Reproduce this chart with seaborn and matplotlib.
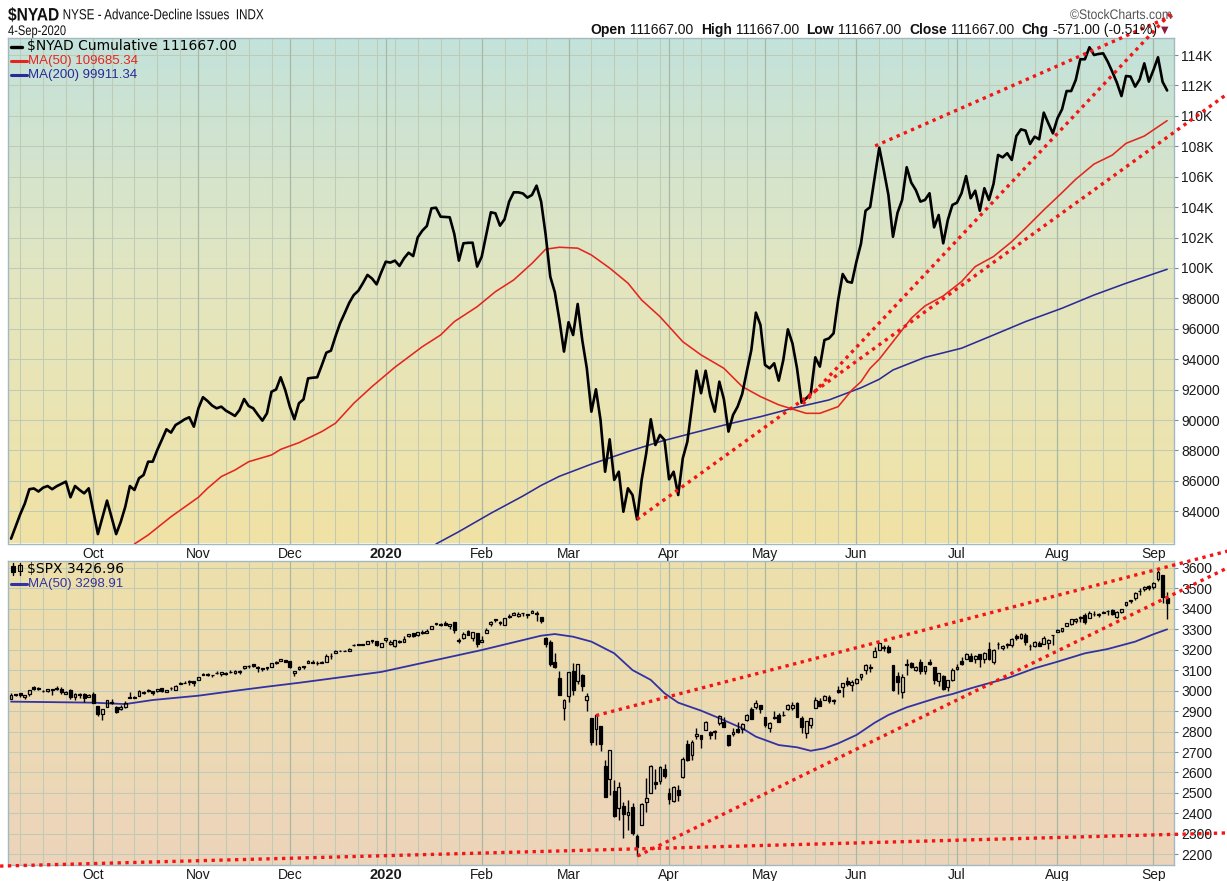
import numpy as np
import pandas as pd
import matplotlib
matplotlib.use("Agg")
import matplotlib.pyplot as plt
from matplotlib import font_manager
from matplotlib.colors import LinearSegmentedColormap
from matplotlib.lines import Line2D
from matplotlib.patches import Rectangle, PathPatch
from matplotlib.textpath import TextPath
from matplotlib.font_manager import FontProperties
from matplotlib.transforms import Affine2D
import seaborn as sns

W, H = 1227, 881

# ---------------- calendar (NYSE trading days) ----------------
holidays = ["2019-11-28", "2019-12-25", "2020-01-01", "2020-01-20",
            "2020-02-17", "2020-04-10", "2020-05-25", "2020-07-03"]
trade_dates = pd.bdate_range("2019-09-05", "2020-09-04", freq="C", holidays=holidays)
month_labels = ["Oct", "Nov", "Dec", "2020", "Feb", "Mar", "Apr", "May", "Jun", "Jul", "Aug", "Sep"]

# ---------------- $NYAD cumulative (daily close) ----------------
nyad = [
    82200, 83000, 83800, 84500, 85450, 85500, 85300, 85550, 85660, 85450,
    85650, 85800, 85950, 84920, 85660, 85400, 85180, 85510, 84000, 82500,
    83600, 84700, 83600, 82500, 83300, 84300, 85660, 85400, 86170, 86385,
    87260, 87260, 88030, 88700, 89390, 89170, 89670, 89850, 90050, 90180,
    89560, 90770, 91500, 91250, 90950, 90770, 90880, 90620, 90450, 90270,
    90660, 91380, 90920, 90770, 90350, 89960, 90440, 91860, 92010, 92810,
    91970, 90880, 90050, 91100, 91360, 92740, 92780, 92810, 93600, 94430,
    94560, 95500, 96360, 97020, 97700, 98220, 98500, 99000, 99540, 99300,
    98920, 99700, 100410, 100350, 100480, 100130, 100630, 101000, 100780, 102010,
    102450, 102760, 103920, 103960, 103370, 103350, 103330, 102230, 100480, 101620,
    101650, 101660, 100090, 100740, 102200, 103660, 103590, 102780, 103200, 104360,
    104970, 104970, 104900, 104620, 104800, 105410, 104360, 102170, 99430, 98400,
    96580, 94500, 96430, 95590, 97630, 95260, 93400, 90550, 92020, 90000,
    86600, 88730, 86060, 86600, 83970, 85510, 85070, 83470, 86060, 87810,
    90050, 88360, 89020, 88690, 86100, 86600, 85070, 87480, 88580, 90880,
    93240, 91760, 93240, 91580, 90550, 92520, 91360, 89240, 90330, 90880,
    91710, 93180, 94600, 97060, 96250, 93620, 93400, 93730, 92590, 93950,
    95960, 95040, 93400, 91140, 91430, 91710, 94120, 93510, 95260, 95370,
    95700, 97890, 99600, 99100, 99030, 100410, 101600, 103760, 104000, 105950,
    107910, 106400, 104800, 102050, 103630, 104470, 106620, 105610, 105120, 104360,
    104470, 104910, 102670, 103480, 101620, 103150, 104140, 104290, 104910, 106040,
    104580, 105080, 103760, 105240, 104470, 105520, 107430, 107270, 107540, 107100,
    108670, 109110, 109030, 108150, 108630, 108460, 110210, 109510, 108850, 109840,
    110430, 111630, 111630, 112360, 113720, 113720, 114510, 114000, 114070, 114110,
    113560, 112900, 112180, 111300, 112620, 112580, 111920, 112400, 113450, 112250,
    113010, 113850, 112238, 111667]

# moving averages of $NYAD (trading-day number since 2019-09-05, value)
nyad_ma50_day = [27, 30, 35, 41, 43, 46, 49, 52, 57, 59, 63, 68, 71, 75, 79, 84, 90, 94, 97, 102,
                 106, 110, 114, 117, 120, 124, 127, 131, 135, 138, 142, 147, 151, 156, 160, 164, 168, 171, 174, 177,
                 181, 184, 186, 188, 190, 193, 197, 200, 204, 208, 211, 215, 219, 222, 226, 230, 233, 237, 241, 244,
                 248, 253]
nyad_ma50_val = [81850, 82440, 83640, 84920, 85510, 86280, 86710, 87260, 87700, 88070,
                 88510, 89240, 89790, 91100, 92200, 93470, 94820, 95590, 96470, 97450,
                 98440, 99210, 100300, 101230, 101360, 101300, 100850, 99990, 99000, 97890,
                 96800, 95150, 94280, 93400, 92200, 91540, 91000, 90720, 90440, 90440,
                 90880, 91970, 92520, 93400, 94000, 95150, 96690, 97500, 98160, 99100,
                 100090, 100750, 101730, 102610, 103810, 104950, 105830, 106830, 107420, 108190,
                 108670, 109685]
nyad_ma200_day = [93, 98, 105, 112, 116, 120, 127, 135, 142, 149, 157, 164, 171, 179, 186, 190, 193,
                  200, 208, 215, 222, 230, 237, 244, 253]
nyad_ma200_val = [81850, 82660, 83870, 85000, 85700, 86300, 87100, 87920, 88580, 89130, 89740, 90220,
                  90770, 91320, 92120, 92680, 93290, 94120, 94720, 95590, 96470, 97350, 98220, 98990, 99911]

# ---------------- $SPX daily OHLC ----------------
spx_open = [
    # Sep 2019
    2960.6, 2980.3, 2988.4, 2971.0, 2981.4, 3018.2, 3012.2, 2996.4, 2995.7, 3001.5, 3010.4, 3008.4, 2983.5, 3002.4, 2968.4, 2985.7, 2985.5, 2967.1,
    # Oct
    2983.7, 2924.8, 2885.4, 2918.6, 2944.2, 2920.4, 2911.1, 2918.6, 2963.1, 2965.8, 2973.6, 2989.7, 3000.8, 2996.8, 2996.5, 3010.7, 2994.0, 3014.8, 3003.3, 3032.1, 3035.4, 3039.7, 3046.9,
    # Nov
    3050.7, 3079.0, 3080.8, 3075.1, 3087.0, 3081.3, 3080.3, 3089.3, 3084.2, 3090.8, 3107.9, 3117.9, 3127.5, 3114.7, 3108.5, 3111.4, 3117.4, 3134.9, 3145.5, 3147.2,
    # Dec
    3143.9, 3087.4, 3103.5, 3119.2, 3134.6, 3141.9, 3135.4, 3135.8, 3141.2, 3166.7, 3183.6, 3195.4, 3195.2, 3192.3, 3223.3, 3226.1, 3225.5, 3227.2, 3247.2, 3240.1, 3215.2,
    # Jan 2020
    3244.7, 3226.4, 3217.6, 3241.9, 3238.6, 3266.0, 3281.8, 3271.1, 3285.4, 3282.3, 3303.0, 3323.7, 3321.0, 3330.0, 3315.8, 3333.1, 3247.2, 3255.4, 3289.5, 3256.5, 3282.3,
    # Feb
    3235.7, 3280.6, 3324.9, 3344.9, 3335.5, 3318.3, 3365.9, 3370.5, 3365.9, 3378.1, 3369.0, 3380.4, 3380.5, 3360.5, 3257.6, 3238.9, 3139.9, 3062.5, 2916.9,
    # Mar
    2974.3, 3096.5, 3045.8, 3075.7, 2954.2, 2863.9, 2813.5, 2825.6, 2630.9, 2570.0, 2508.6, 2425.7, 2436.5, 2393.5, 2431.9, 2290.7, 2344.4, 2457.8, 2501.3, 2555.9, 2559.0, 2614.7,
    # Apr
    2498.1, 2458.5, 2514.9, 2578.3, 2738.7, 2685.0, 2777.0, 2782.5, 2805.1, 2795.6, 2799.3, 2842.4, 2845.6, 2784.8, 2787.9, 2810.4, 2812.6, 2854.7, 2910.0, 2918.5, 2930.9,
    # May
    2869.1, 2815.0, 2868.9, 2883.1, 2878.3, 2908.8, 2915.5, 2939.5, 2865.9, 2794.5, 2830.0, 2913.9, 2948.6, 2953.6, 2970.0, 2948.1, 3004.1, 3015.7, 3046.6, 3025.2,
    # Jun
    3038.8, 3064.8, 3098.9, 3111.6, 3163.8, 3199.9, 3213.3, 3213.4, 3123.5, 3071.0, 2993.8, 3131.0, 3136.1, 3101.6, 3140.3, 3094.4, 3138.7, 3114.4, 3046.6, 3073.2, 3018.6, 3050.2,
    # Jul
    3105.9, 3143.6, 3155.3, 3166.4, 3153.1, 3176.2, 3152.5, 3205.1, 3141.1, 3226.0, 3208.4, 3224.2, 3224.3, 3268.5, 3254.9, 3271.6, 3218.6, 3219.8, 3234.3, 3227.2, 3231.8, 3270.5,
    # Aug
    3288.3, 3289.9, 3317.4, 3323.2, 3340.1, 3356.0, 3370.3, 3355.5, 3373.0, 3368.7, 3380.9, 3387.0, 3392.5, 3360.5, 3386.0, 3418.1, 3436.0, 3450.0, 3485.1, 3494.7, 3509.7,
    # Sep
    3507.4, 3543.8, 3564.7, 3453.6]
spx_high = [
    2985.9, 2985.0, 2989.4, 2979.4, 3000.9, 3020.7, 3017.3, 3002.2, 3006.2, 3007.8, 3022.0, 3016.4, 2999.2, 3008.0, 2989.8, 2987.3, 2987.3, 2983.9,
    2992.5, 2924.8, 2911.1, 2953.7, 2959.8, 2925.5, 2929.3, 2948.5, 2993.3, 2972.8, 3003.3, 2997.5, 3008.3, 3000.0, 3007.3, 3014.6, 3004.8, 3016.1, 3027.4, 3044.1, 3047.9, 3050.1, 3046.9,
    3067.0, 3085.2, 3084.0, 3078.3, 3097.8, 3093.1, 3088.3, 3102.6, 3098.1, 3098.2, 3120.5, 3124.2, 3127.6, 3119.0, 3110.1, 3112.9, 3133.8, 3142.7, 3154.3, 3150.3,
    3144.3, 3095.0, 3119.4, 3119.5, 3150.6, 3148.9, 3142.1, 3144.0, 3176.3, 3182.7, 3197.7, 3198.2, 3198.5, 3205.5, 3225.7, 3227.8, 3226.4, 3240.1, 3247.9, 3240.9, 3231.7,
    3258.1, 3246.2, 3246.8, 3244.9, 3267.1, 3275.6, 3283.0, 3288.1, 3294.3, 3298.7, 3317.1, 3329.9, 3329.8, 3337.8, 3326.9, 3333.2, 3258.9, 3285.8, 3293.5, 3285.9, 3282.3,
    3268.4, 3306.9, 3337.6, 3348.0, 3341.4, 3352.3, 3375.6, 3381.5, 3385.1, 3380.7, 3375.0, 3393.5, 3389.2, 3360.8, 3259.8, 3247.0, 3182.5, 3097.1, 2959.7,
    3091.0, 3136.7, 3131.0, 3083.0, 2985.9, 2863.9, 2882.6, 2825.6, 2661.0, 2711.3, 2563.0, 2553.9, 2453.6, 2467.0, 2453.0, 2300.7, 2449.7, 2571.4, 2637.0, 2615.9, 2631.8, 2641.4,
    2522.8, 2533.2, 2538.2, 2676.9, 2756.9, 2760.8, 2818.6, 2782.5, 2851.9, 2801.9, 2806.5, 2879.2, 2869.0, 2785.5, 2815.1, 2844.9, 2842.7, 2887.7, 2921.2, 2954.9, 2930.9,
    2869.1, 2844.2, 2898.2, 2891.1, 2901.9, 2932.2, 2944.3, 2945.8, 2874.1, 2852.8, 2865.0, 2968.1, 2964.2, 2980.3, 2978.5, 2956.8, 3021.7, 3036.3, 3068.7, 3049.2,
    3062.2, 3081.1, 3130.9, 3128.9, 3211.7, 3233.1, 3222.7, 3223.3, 3123.5, 3088.4, 3079.8, 3153.5, 3141.2, 3120.0, 3155.5, 3120.9, 3154.9, 3115.0, 3086.3, 3073.7, 3053.9, 3111.5,
    3128.4, 3165.8, 3182.6, 3184.2, 3171.8, 3179.8, 3186.8, 3235.3, 3201.0, 3238.3, 3220.4, 3233.5, 3258.6, 3277.3, 3279.3, 3280.0, 3227.3, 3241.4, 3243.7, 3264.7, 3250.9, 3272.2,
    3302.7, 3306.8, 3330.8, 3351.0, 3352.5, 3363.3, 3381.0, 3387.9, 3387.2, 3378.5, 3387.6, 3395.1, 3399.5, 3390.8, 3400.0, 3432.1, 3444.2, 3481.1, 3501.4, 3509.2, 3514.8,
    3528.0, 3588.1, 3564.9, 3479.2]
spx_low = [
    2960.6, 2972.5, 2969.4, 2957.0, 2975.3, 3000.9, 3002.9, 2990.7, 2993.7, 2978.6, 3003.2, 2984.7, 2982.2, 2957.7, 2952.9, 2963.7, 2945.5, 2967.1,
    2938.7, 2874.9, 2855.9, 2918.6, 2935.7, 2892.7, 2907.4, 2917.1, 2963.1, 2962.9, 2973.6, 2985.2, 2991.8, 2976.3, 2995.4, 2995.0, 2991.2, 3000.4, 3001.9, 3032.1, 3034.8, 3026.0, 3023.2,
    3050.7, 3074.9, 3072.2, 3065.9, 3080.2, 3073.6, 3075.8, 3084.7, 3078.8, 3083.3, 3104.6, 3112.1, 3113.5, 3091.4, 3094.6, 3099.3, 3117.4, 3131.0, 3143.4, 3139.3,
    3110.8, 3070.3, 3102.5, 3103.8, 3134.6, 3135.5, 3126.1, 3133.2, 3138.5, 3156.5, 3183.6, 3191.0, 3191.1, 3191.7, 3216.0, 3222.3, 3220.5, 3227.2, 3234.4, 3216.6, 3212.0,
    3235.5, 3222.3, 3214.6, 3232.4, 3236.7, 3263.7, 3260.9, 3268.4, 3277.2, 3280.7, 3302.8, 3318.9, 3316.6, 3320.0, 3301.9, 3281.5, 3234.5, 3253.2, 3271.9, 3242.8, 3214.7,
    3235.7, 3280.6, 3313.8, 3334.4, 3322.1, 3317.8, 3352.7, 3369.7, 3360.5, 3366.2, 3355.6, 3378.8, 3341.0, 3328.5, 3214.7, 3118.8, 3109.0, 2977.4, 2855.8,
    2945.2, 2976.6, 3034.4, 2999.8, 2901.5, 2734.4, 2734.0, 2707.2, 2478.9, 2492.4, 2380.9, 2367.0, 2280.5, 2319.8, 2295.6, 2191.9, 2344.4, 2407.5, 2500.7, 2520.0, 2545.3, 2571.2,
    2447.5, 2455.8, 2460.0, 2574.6, 2657.7, 2663.3, 2762.4, 2721.2, 2805.1, 2761.5, 2764.3, 2830.9, 2820.4, 2727.1, 2776.0, 2794.3, 2791.8, 2852.9, 2860.7, 2912.2, 2892.5,
    2821.6, 2797.9, 2863.6, 2847.7, 2876.5, 2902.9, 2903.4, 2869.6, 2793.2, 2766.6, 2816.8, 2913.9, 2922.4, 2953.6, 2938.6, 2933.6, 2988.2, 2969.8, 3023.4, 2998.6,
    3031.5, 3051.6, 3081.0, 3090.4, 3163.8, 3196.0, 3193.1, 3181.5, 2999.5, 2984.5, 2965.7, 3076.1, 3108.0, 3093.5, 3083.1, 3079.4, 3127.1, 3032.1, 3024.0, 3004.6, 2999.7, 3047.8,
    3101.2, 3124.5, 3155.3, 3142.9, 3136.5, 3115.7, 3136.2, 3149.4, 3127.7, 3200.8, 3198.6, 3205.7, 3215.2, 3247.8, 3253.1, 3222.7, 3200.1, 3214.3, 3216.2, 3227.2, 3204.1, 3220.3,
    3284.5, 3286.4, 3317.4, 3318.1, 3328.7, 3335.4, 3326.4, 3355.5, 3363.4, 3361.6, 3379.2, 3370.2, 3369.7, 3354.7, 3379.3, 3413.1, 3425.8, 3444.2, 3468.4, 3484.3, 3493.3,
    3494.6, 3535.2, 3427.4, 3349.6]
spx_close = [
    2976.0, 2978.7, 2978.4, 2979.4, 3000.9, 3009.6, 3007.4, 2998.0, 3005.7, 3006.7, 3006.8, 2992.1, 2991.8, 2966.6, 2984.9, 2977.6, 2961.8, 2976.7,
    2940.3, 2887.6, 2910.6, 2952.0, 2938.8, 2893.1, 2919.4, 2938.1, 2970.3, 2966.2, 2995.7, 2989.7, 2998.0, 2986.2, 3006.7, 2996.0, 3004.5, 3010.3, 3022.6, 3039.4, 3036.9, 3046.8, 3037.6,
    3066.9, 3078.3, 3074.6, 3076.8, 3085.2, 3093.1, 3087.0, 3091.8, 3094.0, 3096.6, 3120.5, 3122.0, 3120.2, 3108.5, 3103.5, 3110.3, 3133.6, 3140.5, 3153.6, 3141.0,
    3113.9, 3093.2, 3112.8, 3117.4, 3145.9, 3136.0, 3132.5, 3141.6, 3168.6, 3168.8, 3191.5, 3192.5, 3191.1, 3205.4, 3221.2, 3224.0, 3223.4, 3239.9, 3240.0, 3221.3, 3230.8,
    3257.9, 3234.9, 3246.3, 3237.2, 3253.1, 3274.7, 3265.4, 3288.1, 3283.2, 3289.3, 3316.8, 3329.6, 3320.8, 3321.8, 3325.5, 3295.5, 3243.6, 3276.2, 3273.4, 3283.7, 3225.5,
    3248.9, 3297.6, 3334.7, 3345.8, 3327.7, 3352.1, 3357.8, 3379.5, 3373.9, 3380.2, 3370.3, 3386.2, 3373.2, 3337.8, 3225.9, 3128.2, 3116.4, 2978.8, 2954.2,
    3090.2, 3003.4, 3130.1, 3023.9, 2972.4, 2746.6, 2882.2, 2741.4, 2480.6, 2711.0, 2386.1, 2529.2, 2398.1, 2409.4, 2304.9, 2237.4, 2447.3, 2475.6, 2630.1, 2541.5, 2626.7, 2584.6,
    2470.5, 2526.9, 2488.7, 2663.7, 2659.4, 2750.0, 2789.8, 2761.6, 2846.1, 2783.4, 2799.6, 2874.6, 2823.2, 2736.6, 2799.3, 2797.8, 2836.7, 2878.5, 2863.4, 2939.5, 2912.4,
    2830.7, 2842.7, 2868.4, 2848.4, 2881.2, 2929.8, 2930.2, 2870.1, 2820.0, 2852.5, 2863.7, 2953.9, 2922.9, 2971.6, 2948.5, 2955.5, 2991.8, 3036.1, 3029.7, 3044.3,
    3055.7, 3080.8, 3122.9, 3112.4, 3193.9, 3232.4, 3207.2, 3190.1, 3002.1, 3041.3, 3066.6, 3124.7, 3113.5, 3115.3, 3097.7, 3117.9, 3131.3, 3050.3, 3083.8, 3009.1, 3053.2, 3100.3,
    3115.9, 3130.0, 3179.7, 3145.3, 3169.9, 3152.1, 3185.0, 3155.2, 3197.5, 3226.6, 3215.6, 3224.7, 3251.8, 3257.3, 3276.0, 3235.7, 3215.6, 3239.4, 3218.4, 3258.4, 3246.2, 3271.1,
    3294.6, 3306.5, 3327.8, 3349.2, 3351.3, 3360.5, 3333.7, 3380.4, 3373.4, 3372.9, 3382.0, 3389.8, 3374.9, 3385.5, 3397.2, 3431.3, 3443.6, 3478.7, 3484.6, 3508.0, 3500.3,
    3526.7, 3580.8, 3455.1, 3427.0]

spx_ma50_day = [0, 18, 25, 31, 41, 49, 56, 63, 81, 103, 116, 119, 123, 127, 132, 136, 140, 143, 146, 151,
                155, 160, 163, 168, 172, 175, 178, 181, 185, 189, 192, 196, 200, 203, 206, 210, 213, 218, 221, 224,
                229, 235, 240, 246, 250, 253]
spx_ma50_val = [2946, 2941, 2934, 2954, 2975, 2999, 3019, 3038, 3091, 3198, 3268, 3276, 3263, 3239, 3182, 3100,
                3052, 2987, 2941, 2902, 2865, 2816, 2775, 2734, 2723, 2706, 2718, 2742, 2783, 2843, 2881, 2918,
                2946, 2967, 2983, 3011, 3030, 3060, 3084, 3109, 3141, 3182, 3203, 3239, 3275, 3299]

# hand-drawn trend lines ((day, value), (day, value))
nyad_trend = [((137.0, 83470), (266.2, 111450)),
              ((173.3, 91050), (253.6, 116700)),
              ((189.1, 108020), (254.4, 116630))]
spx_trend = [((128.0, 2878), (266.2, 3681)),
             ((137.1, 2192), (266.2, 3599)),
             ((-2.4, 2143), (266.2, 2305))]

nyad_ticks = list(range(84000, 114001, 2000))
spx_ticks = list(range(2200, 3601, 100))

# ---------------- style ----------------
sns.set_theme(style="white")
avail = {f.name for f in font_manager.fontManager.ttflist}
SANS = "Liberation Sans" if "Liberation Sans" in avail else "DejaVu Sans"
plt.rcParams["font.family"] = [SANS, "DejaVu Sans"]

n = len(trade_dates)
assert len(nyad) == n and len(spx_open) == n and len(spx_high) == n and len(spx_low) == n and len(spx_close) == n
idx = np.arange(n)
XLIM = (-0.67, 254.5)
Y1 = (81881, 115118)
Y2 = (2148.3, 3632.7)

months = trade_dates.to_period("M")
month_idx = [i for i in range(1, n) if months[i] != months[i - 1]]
weeks = trade_dates.to_period("W")
week_idx = [i for i in range(1, n) if weeks[i] != weeks[i - 1]]
week_idx = [i for i in week_idx if min(abs(i - m) for m in month_idx) > 1]

fig = plt.figure(figsize=(W / 100, H / 100), dpi=100)
fig.patch.set_facecolor("white")


def px_axes(x0, y0, x1, y1):
    return fig.add_axes([x0 / W, 1 - y1 / H, (x1 - x0) / W, (y1 - y0) / H])


ax1 = px_axes(8, 38, 1174, 543.5)
ax2 = px_axes(8, 561, 1174, 865)

GRID = "#c0cbb6"
MGRID = "#a9b8a5"


def gradient(ax, colors, ylim):
    cmap = LinearSegmentedColormap.from_list("g", colors)
    ax.imshow(np.linspace(0, 1, 256).reshape(-1, 1), cmap=cmap,
              extent=[XLIM[0], XLIM[1], ylim[0], ylim[1]], origin="lower",
              aspect="auto", zorder=0, interpolation="bilinear")


gradient(ax1, ["#f1e2a5", "#e4e6bf", "#c3e2db"], Y1)
gradient(ax2, ["#ecd4bb", "#eddab2", "#eee0ab"], Y2)

for ax, yt in ((ax1, nyad_ticks), (ax2, spx_ticks)):
    for y in yt:
        ax.axhline(y, color=GRID, lw=0.75, zorder=1)
    for i in week_idx:
        ax.axvline(i, color=GRID, lw=0.75, zorder=1)
    for i in month_idx:
        ax.axvline(i, color=MGRID, lw=0.9, zorder=1)

# ---------------- top panel ----------------
sns.lineplot(x=nyad_ma200_day, y=nyad_ma200_val, ax=ax1, color="#2b2b98", lw=1.15, zorder=3)
sns.lineplot(x=nyad_ma50_day, y=nyad_ma50_val, ax=ax1, color="#e3261f", lw=1.15, zorder=3)
sns.lineplot(x=idx, y=nyad, ax=ax1, color="black", lw=1.9, zorder=4)

DOT = dict(color="#f51414", lw=2.4, linestyle=(0, (1, 1.35)), dash_capstyle="butt",
           clip_on=False, zorder=6)
for (a, b) in nyad_trend:
    ax1.plot([a[0], b[0]], [a[1], b[1]], **DOT)

# ---------------- bottom panel ----------------
o = np.array(spx_open); h = np.array(spx_high); l = np.array(spx_low); c = np.array(spx_close)
up = c >= o
blo = np.minimum(o, c); bhi = np.maximum(o, c)
hgt = np.maximum(bhi - blo, 2.5)
ax2.vlines(idx, l, blo, color="black", lw=1.0, zorder=4)
ax2.vlines(idx, bhi, h, color="black", lw=1.0, zorder=4)
ax2.bar(idx[up], hgt[up], bottom=blo[up], width=0.62, facecolor="none",
        edgecolor="black", lw=0.9, zorder=4)
ax2.bar(idx[~up], hgt[~up], bottom=blo[~up], width=0.62, facecolor="black",
        edgecolor="black", lw=0.9, zorder=4)
sns.lineplot(x=spx_ma50_day, y=spx_ma50_val, ax=ax2, color="#3232a2", lw=1.3, zorder=3)
for (a, b) in spx_trend:
    ax2.plot([a[0], b[0]], [a[1], b[1]], **DOT)

# ---------------- axes cosmetics ----------------
for ax, ylim, yt, labs in ((ax1, Y1, nyad_ticks,
                            [f"{v}" if v < 100000 else f"{v // 1000}K" for v in nyad_ticks]),
                           (ax2, Y2, spx_ticks, [str(v) for v in spx_ticks])):
    ax.set_xlim(*XLIM)
    ax.set_ylim(*ylim)
    ax.set_xlabel("")
    ax.set_ylabel("")
    ax.yaxis.tick_right()
    ax.set_yticks(yt)
    ax.set_yticklabels(labs)
    ax.tick_params(axis="y", length=3, width=0.8, color="#7a8a90", pad=2,
                   labelsize=10, labelcolor="#1a1a1a")
    ax.set_xticks(month_idx)
    ax.set_xticklabels(month_labels)
    ax.tick_params(axis="x", length=0, pad=2.5, labelsize=10, labelcolor="#1a1a1a")
    for t in ax.get_xticklabels():
        if t.get_text() == "2020":
            t.set_fontweight("bold")
            t.set_fontsize(10.5)
    for s in ax.spines.values():
        s.set_color("#a3b9c1")
        s.set_linewidth(1.0)
    ax.grid(False)

# ---------------- texts ----------------
renderer = fig.canvas.get_renderer()


def ftext(x, y, s, **kw):
    return fig.text(x / W, 1 - y / H, s, va="center", ha=kw.pop("ha", "left"), **kw)


def narrow_text(x, y, s, size_pt, squeeze=0.82, weight="normal", color="#111"):
    """Text drawn as a horizontally condensed path (Arial-Narrow look); returns width in px."""
    size_px = size_pt * 100 / 72
    tp = TextPath((0, 0), s, size=size_px, prop=FontProperties(family=SANS, weight=weight))
    base = H - y - 0.36 * size_px
    tr = Affine2D().scale(squeeze, 1).translate(x, base)
    fig.add_artist(PathPatch(tp, transform=tr, facecolor=color, edgecolor="none", lw=0))
    ext = tp.get_extents()
    return (ext.x1 + 0.2 * size_px) * squeeze


def run(x, y, parts):
    for s, kw in parts:
        t = ftext(x, y, s, **kw)
        x += t.get_window_extent(renderer=renderer).width
    return x


def dash(x0, x1, y, color, lw=2.2):
    fig.add_artist(Line2D([x0 / W, x1 / W], [1 - y / H, 1 - y / H], color=color, lw=lw,
                          transform=fig.transFigure))


wx = narrow_text(8, 14, "$NYAD", 13, squeeze=0.86, weight="bold")
narrow_text(8 + wx + 1, 14, "NYSE - Advance-Decline Issues  INDX", 10.5, squeeze=0.80)
narrow_text(8, 30, "4-Sep-2020", 10, squeeze=0.80)
narrow_text(1070, 14, "©StockCharts.com", 10, squeeze=0.88, color="#555")

B = dict(fontsize=10, fontweight="bold", color="#111")
R = dict(fontsize=10, color="#111")
run(590, 30, [("Open", B), (" 111667.00  ", R), ("High", B), (" 111667.00  ", R),
              ("Low", B), (" 111667.00  ", R), ("Close", B), (" 111667.00  ", R),
              ("Chg", B), (" -571.00 (-0.51%) ", R),
              ("▼", dict(fontsize=7, color="#8b1c3c", family=["DejaVu Sans"]))])

# legends
dash(11, 22, 46.5, "black", lw=2.4)
ftext(27, 46.5, "\\$NYAD Cumulative 111667.00", fontsize=10, family=["DejaVu Sans"], color="black")
dash(11, 27, 61, "#e3261f")
ftext(28, 61, "MA(50) 109685.34", fontsize=9.5, color="#e3261f")
dash(11, 27, 75, "#2b2b98")
ftext(28, 75, "MA(200) 99911.34", fontsize=9.5, color="#2b2b98")

# candle icon
for (cx, y0, y1, b0, b1, filled) in ((13, 563, 575, 565.5, 572, True), (20, 563, 575, 565, 570.5, False)):
    fig.add_artist(Line2D([cx / W, cx / W], [1 - y0 / H, 1 - y1 / H], color="black", lw=1,
                          transform=fig.transFigure))
    fig.add_artist(Rectangle(((cx - 1.8) / W, 1 - b1 / H), 3.6 / W, (b1 - b0) / H,
                             transform=fig.transFigure, facecolor="black" if filled else "#efe0ab",
                             edgecolor="black", lw=0.8))
ftext(27, 569, "\\$SPX 3426.96", fontsize=10, family=["DejaVu Sans"], color="black")
dash(11, 27, 584, "#3232a2")
ftext(28, 584, "MA(50) 3298.91", fontsize=9.5, color="#3232a2")

fig.savefig("out.png", dpi=100, facecolor="white")
